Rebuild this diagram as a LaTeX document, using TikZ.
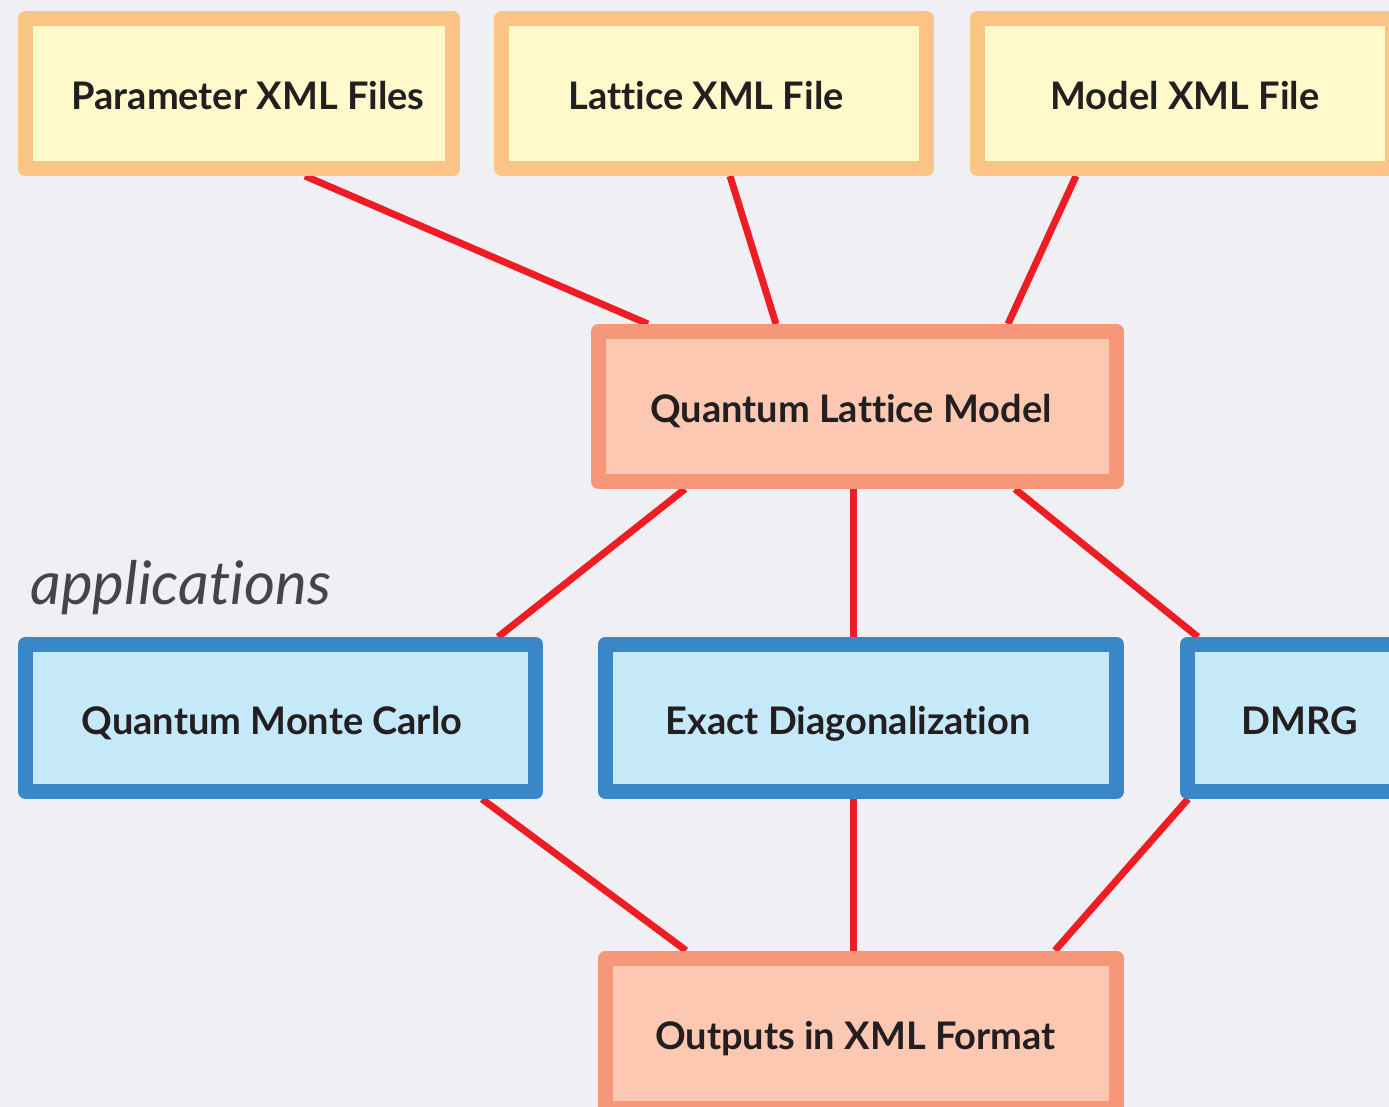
\documentclass[tikz,border=0pt]{standalone}
\usepackage{fontspec}
\setmainfont{Lato}[Ligatures={NoCommon,NoRequired,NoContextual}]
\usetikzlibrary{calc}
\definecolor{bgc}{HTML}{F0EFF4}
\definecolor{yelB}{HTML}{FDC585}
\definecolor{yelF}{HTML}{FFF9CB}
\definecolor{salB}{HTML}{F6977A}
\definecolor{salF}{HTML}{FCC8B2}
\definecolor{bluB}{HTML}{3A87C8}
\definecolor{bluF}{HTML}{C5E9F9}
\definecolor{wireC}{HTML}{EE1D24}
\definecolor{txt}{HTML}{231F20}
\definecolor{appC}{HTML}{454547}
\pgfdeclarelayer{bg}
\pgfdeclarelayer{wires}
\pgfsetlayers{bg,wires,main}
\begin{document}
\begin{tikzpicture}[x=0.5pt,y=-0.5pt,
  box/.style={rectangle, line width=7.5pt, line join=round, minimum height=75pt,
    font=\bfseries\fontsize{19}{22}\selectfont, text=txt, inner sep=0pt,
    text height=16pt, text depth=0pt},
  filebox/.style={box, draw=yelB, fill=yelF},
  modelbox/.style={box, draw=salB, fill=salF},
  appbox/.style={box, draw=bluB, fill=bluF, minimum height=73.5pt},
  wire/.style={draw=wireC, line width=3.5pt}]
\useasboundingbox (0,0) rectangle (1389,1107);
\clip (0,0) rectangle (1389,1107);
\begin{pgfonlayer}{bg}
  \fill[bgc] (0,0) rectangle (1389,1107);
\end{pgfonlayer}

\node[filebox, minimum width=213.5pt] (P) at (239,93.5) {\hspace*{9pt}Parameter XML Files};
\node[filebox, minimum width=212.5pt] (L) at (714,93.5) {Lattice XML File\hspace*{8pt}};
\node[filebox, minimum width=207.5pt] (M) at (1185,93.5) {Model XML File};
\node[modelbox, minimum width=259pt] (Q) at (857.5,406.5) {Quantum Lattice Model\hspace*{6.5pt}};
\node[appbox, minimum width=255pt] (QMC) at (280.5,718) {Quantum Monte Carlo\hspace*{8.5pt}};
\node[appbox, minimum width=255.5pt] (ED) at (861,718) {Exact Diagonalization\hspace*{13pt}};
\node[appbox, minimum width=112.5pt] (D) at (1300,718) {DMRG};
\node[modelbox, minimum width=255.5pt] (O) at (861,1033) {Outputs in XML Format\hspace*{5.5pt}};
\node[anchor=base west, font=\itshape\fontsize{30}{32}\selectfont, text=appC, inner sep=0pt] (app) at (30,604) {applications};

\begin{pgfonlayer}{wires}
  \draw[wire] ($(P.south)+(66,0)$) -- ($(Q.north)+(-209.5,0)$);
  \draw[wire] ($(L.south)+(16,0)$) -- ($(Q.north)+(-81.5,0)$);
  \draw[wire] ($(M.south)+(-109,0)$) -- ($(Q.north)+(150.5,0)$);
  \draw[wire] ($(Q.south)+(-172.5,0)$) -- ($(QMC.north)+(217.5,0)$);
  \draw[wire] ($(Q.south)+(-4.5,0)$) -- ($(ED.north)+(-8,0)$);
  \draw[wire] ($(Q.south)+(157.5,0)$) -- ($(D.north)+(-102,0)$);
  \draw[wire] ($(QMC.south)+(201.5,0)$) -- ($(O.north)+(-175,0)$);
  \draw[wire] ($(ED.south)+(-8,0)$) -- ($(O.north)+(-8,0)$);
  \draw[wire] ($(D.south)+(-112,0)$) -- ($(O.north)+(194,0)$);
\end{pgfonlayer}
\end{tikzpicture}
\end{document}
